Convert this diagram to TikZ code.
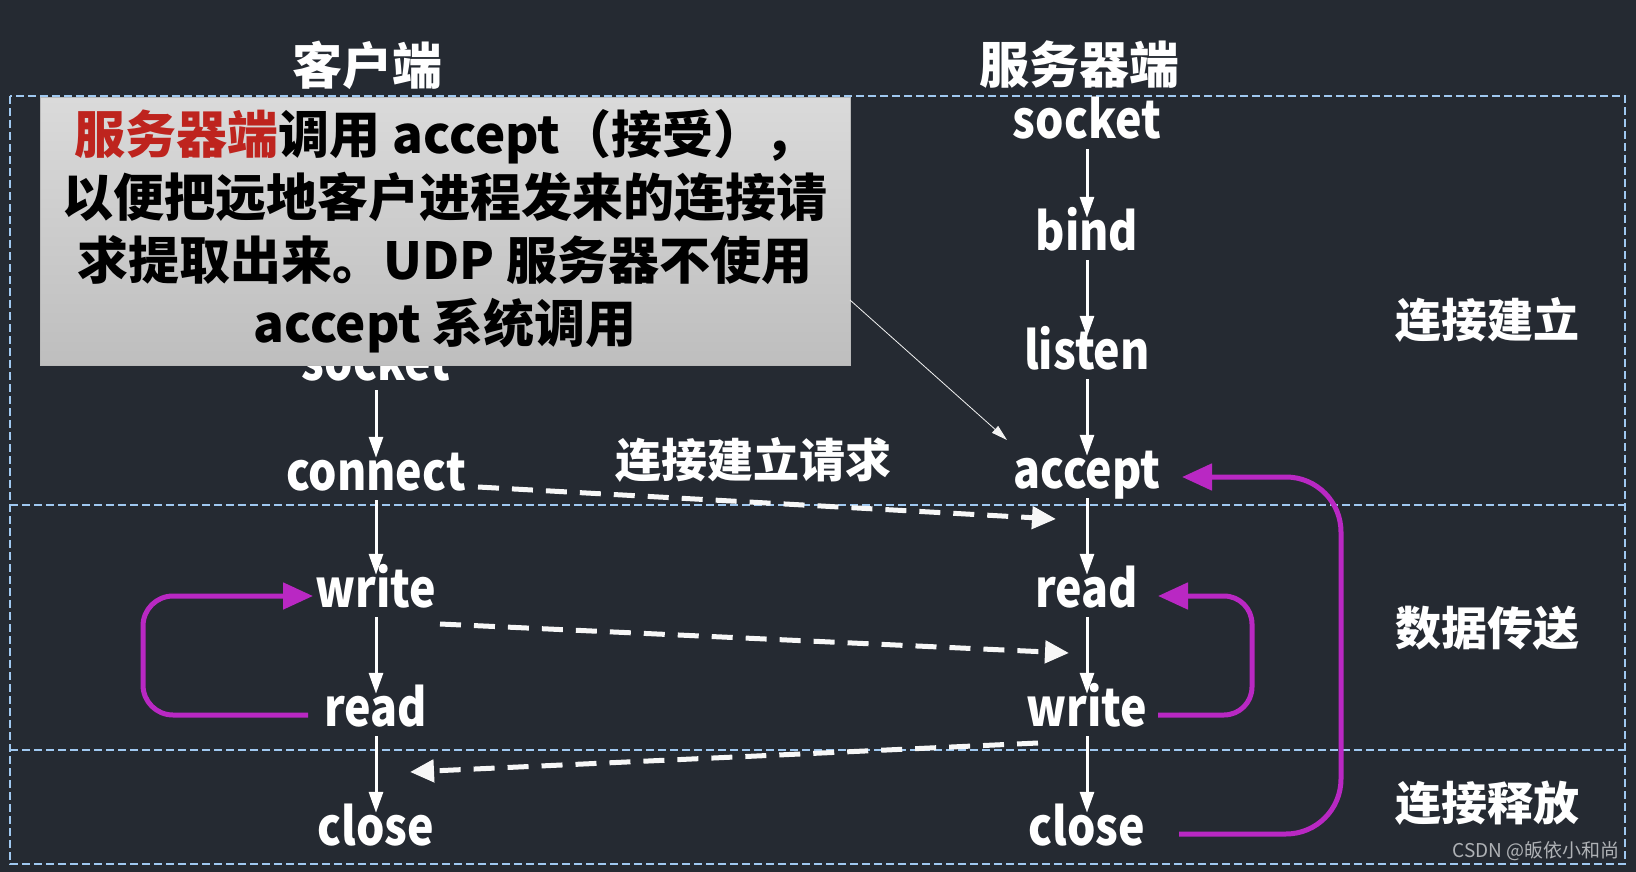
\documentclass[tikz,border=0pt]{standalone}
\usepackage{fontspec}
\setmainfont{Noto Sans CJK SC}
\newfontfamily\lblfont{Noto Sans CJK SC}[FakeStretch=0.86]
\usetikzlibrary{arrows.meta}
\definecolor{bgc}{RGB}{37,42,50}
\definecolor{sepc}{RGB}{160,200,240}
\definecolor{magc}{RGB}{185,40,195}
\definecolor{hlc}{RGB}{190,36,30}
\definecolor{boxtop}{RGB}{218,218,218}
\definecolor{boxbot}{RGB}{190,190,190}
\definecolor{wmc}{RGB}{175,178,182}
\tikzset{
  lbl/.style={text=white, font=\lblfont\fontsize{52}{52}\selectfont\bfseries, inner sep=0pt,
    text height=32pt, text depth=10pt, anchor=base},
  ttl/.style={text=white, font=\fontsize{50}{50}\selectfont\bfseries, inner sep=0pt},
  phase/.style={text=white, font=\fontsize{46}{46}\selectfont\bfseries, inner sep=0pt},
  vflow/.style={draw=white, line width=3pt, -{Triangle[length=21pt,width=14pt]}},
  msg/.style={draw=white!94!gray, line width=5pt, dash pattern=on 21pt off 13pt,
    -{Triangle[length=24pt,width=22pt]}},
  sepline/.style={draw=sepc, line width=1.3pt, dash pattern=on 8pt off 4pt},
  loopline/.style={draw=magc, line width=5pt, -{Triangle[length=30pt,width=26pt]}},
  note/.style={draw=gray!55, line width=1pt, top color=boxtop, bottom color=boxbot,
    minimum width=810pt, minimum height=267pt, inner sep=0pt, align=center,
    font=\fontsize{51}{63}\selectfont\bfseries, text=black},
  pointer/.style={draw=white!90!gray, line width=0.8pt, -{Triangle[length=16pt,width=9pt]}}
}
\begin{document}
\begin{tikzpicture}[x=1pt,y=-1pt]
\useasboundingbox[fill=bgc] (0,0) rectangle (1636,872);

% frame and dividers
\draw[sepline] (10,96) rectangle (1625,864);
\draw[sepline] (10,505) -- (1625,505);
\draw[sepline] (10,750) -- (1625,750);

% titles
\node[ttl] (tclient) at (367,65) {客户端};
\node[ttl] (tserver) at (1079,65) {服务器端};

% client column
\node[lbl] (csock)  at (376,380) {socket};
\node[lbl] (cconn)  at (376,490) {connect};
\node[lbl] (cwrite) at (376,607) {write};
\node[lbl] (cread)  at (376,726) {read};
\node[lbl] (cclose) at (376,845) {close};

% server column
\node[lbl] (ssock)   at (1087,139) {socket};
\node[lbl] (sbind)   at (1087,250) {bind};
\node[lbl] (slisten) at (1087,369) {listen};
\node[lbl] (saccept) at (1087,488) {accept};
\node[lbl] (sread)   at (1087,607) {read};
\node[lbl] (swrite)  at (1087,726) {write};
\node[lbl] (sclose)  at (1087,845) {close};

% vertical flow
\draw[vflow] (csock.south) -- (cconn.north);
\draw[vflow] (cconn.south) -- (cwrite.north);
\draw[vflow] (cwrite.south) -- (cread.north);
\draw[vflow] (cread.south) -- (cclose.north);
\draw[vflow] (ssock.south) -- (sbind.north);
\draw[vflow] (sbind.south) -- (slisten.north);
\draw[vflow] (slisten.south) -- (saccept.north);
\draw[vflow] (saccept.south) -- (sread.north);
\draw[vflow] (sread.south) -- (swrite.north);
\draw[vflow] (swrite.south) -- (sclose.north);

% phase labels
\node[phase] (p1) at (1487,320) {连接建立};
\node[phase] (p2) at (1487,628) {数据传送};
\node[phase] (p3) at (1487,803) {连接释放};

% messages
\node[phase] (reqlbl) at (753,460) {连接建立请求};
\coordinate (m1s) at (478,487);
\coordinate (m1e) at (1056,519);
\draw[msg] (m1s) -- (m1e);
\coordinate (m2s) at (440,624);
\coordinate (m2e) at (1069,653);
\draw[msg] (m2s) -- (m2e);
\coordinate (m3s) at (1038,743);
\coordinate (m3e) at (410,772);
\draw[msg] (m3s) -- (m3e);

% loops
\coordinate (ca) at (308,0);
\coordinate (cb) at (143,0);
\coordinate (cc) at (313,0);
\draw[loopline, rounded corners=30pt]
  (cread.west -| ca) -- (cread.west -| cb) |- (cwrite.west -| cc);
\coordinate (sa) at (1158,0);
\coordinate (sb) at (1252,0);
\draw[loopline, rounded corners=28pt]
  (swrite.east -| sa) -- (swrite.east -| sb) |- (sread.east -| sa);
\coordinate (ba) at (1179,0);
\coordinate (bb) at (1341,0);
\coordinate (bc) at (1182,0);
\draw[loopline, rounded corners=55pt]
  (sclose.east -| ba) -- (sclose.east -| bb) |- (saccept.east -| bc);

% note box
\node[note] (nbox) at (445,231.5) {{\color{hlc}服务器端}调用 accept（接受），\\以便把远地客户进程发来的连接请\\求提取出来。UDP 服务器不使用\\accept 系统调用};
\coordinate (pstart) at (850,300);
\draw[pointer] (pstart) -- ([xshift=-80pt,yshift=48pt]saccept.base);

% watermark
\node[text=wmc, font=\fontsize{19}{19}\selectfont, anchor=base east, inner sep=0pt] (wm) at (1620,857) {CSDN @皈依小和尚};
\end{tikzpicture}
\end{document}
